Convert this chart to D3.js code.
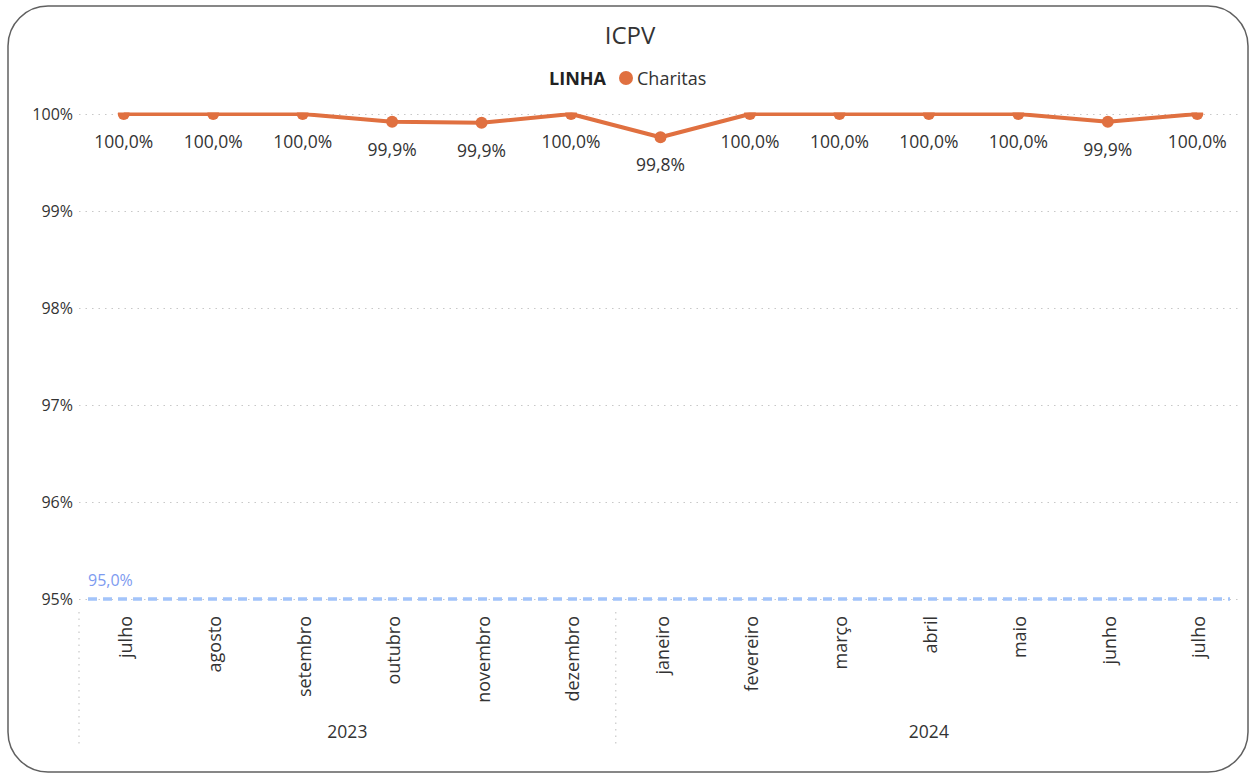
<!DOCTYPE html>
<html><head><meta charset="utf-8">
<script src="https://cdn.jsdelivr.net/npm/d3@7"></script>
<style>
html,body{margin:0;padding:0;background:#fff;}
svg{display:block;font-family:"Open Sans","Noto Sans",sans-serif;}
</style></head>
<body>
<svg id="c" width="1250" height="774"></svg>
<script>
const months = ["julho","agosto","setembro","outubro","novembro","dezembro","janeiro","fevereiro","março","abril","maio","junho","julho"];
const years = ["2023","2023","2023","2023","2023","2023","2024","2024","2024","2024","2024","2024","2024"];
const values = [100.0,100.0,100.0,99.92,99.91,100.0,99.76,100.0,100.0,100.0,100.0,99.92,100.0];
const labels = ["100,0%","100,0%","100,0%","99,9%","99,9%","100,0%","99,8%","100,0%","100,0%","100,0%","100,0%","99,9%","100,0%"];
const yTicks = [95,96,97,98,99,100];
const target = 95;
const targetLabel = "95,0%";
const title = "ICPV";
const legendTitle = "LINHA";
const seriesName = "Charitas";

const svg = d3.select("#c");
const orange = "#E07040";
const pLeft = 79, pRight = 1242, pTop = 114, pBottom = 599;

svg.append("rect").attr("x",8).attr("y",6).attr("width",1240).attr("height",766)
  .attr("rx",40).attr("ry",40).attr("fill","#fff").attr("stroke","#606060").attr("stroke-width",1.5);

const keys = months.map((m,i)=>i);
const x = d3.scaleBand().domain(keys).range([pLeft,pRight]).padding(0);
const cx = i => x(i) + x.bandwidth()/2;
const y = d3.scaleLinear().domain([95,100]).range([pBottom,pTop]);

// title
svg.append("text").attr("x",630).attr("y",44).attr("text-anchor","middle")
  .attr("font-size",24).attr("fill","#333").text(title);

// legend
svg.append("text").attr("x",606).attr("y",85).attr("text-anchor","end")
  .attr("font-size",18).attr("font-weight","bold").attr("fill","#222").text(legendTitle);
svg.append("circle").attr("cx",626).attr("cy",78).attr("r",7).attr("fill",orange);
svg.append("text").attr("x",637).attr("y",85).attr("font-size",18).attr("fill","#333").text(seriesName);

// gridlines
const yAxis = d3.axisLeft(y).tickValues(yTicks).tickFormat(d=>d+"%").tickSize(0).tickPadding(0);
const gy = svg.append("g").attr("transform",`translate(${pLeft},0)`).call(yAxis);
gy.select(".domain").remove();
gy.selectAll("text").attr("x",-6).attr("font-size",16).attr("fill","#333").attr("font-family","Open Sans, sans-serif");
gy.selectAll(".tick").append("line").attr("x1",0).attr("x2",pRight-pLeft-2)
  .attr("stroke","#c8c8c8").attr("stroke-dasharray","1.5,5").attr("stroke-width",1.2);

// target line
svg.append("line").attr("x1",88).attr("x2",1230).attr("y1",y(target)).attr("y2",y(target))
  .attr("stroke","#A3C4FA").attr("stroke-width",3.5).attr("stroke-dasharray","9,6");
svg.append("text").attr("x",88).attr("y",y(target)-13).attr("font-size",16).attr("fill","#7D9BF0").text(targetLabel);

// clip
svg.append("clipPath").attr("id","clip").append("rect")
  .attr("x",pLeft).attr("y",pTop-1.5).attr("width",pRight-pLeft).attr("height",pBottom-pTop+2);

const g = svg.append("g").attr("clip-path","url(#clip)");
const line = d3.line().x((d,i)=>cx(i)).y(d=>y(d));
g.append("path").datum(values).attr("d",line).attr("fill","none")
  .attr("stroke",orange).attr("stroke-width",4).attr("stroke-linejoin","round");
g.selectAll("circle.pt").data(values).join("circle").attr("class","pt")
  .attr("cx",(d,i)=>cx(i)).attr("cy",d=>y(d)).attr("r",6).attr("fill",orange);

// data labels
svg.selectAll("text.dl").data(values).join("text").attr("class","dl")
  .attr("x",(d,i)=>cx(i)).attr("y",d=>y(d)+34).attr("text-anchor","middle")
  .attr("font-size",17.5).attr("fill","#333").text((d,i)=>labels[i]);

// x axis month labels
const gx = svg.append("g");
gx.selectAll("text").data(months).join("text")
  .attr("transform",(d,i)=>`translate(${cx(i)+8},616) rotate(-90)`)
  .attr("text-anchor","end").attr("font-size",18).attr("fill","#333").text(d=>d);

// year groups
const yearGroups = d3.groups(keys, i=>years[i]);
yearGroups.forEach(([yr, idx])=>{
  const x0 = x(idx[0]), x1 = x(idx[idx.length-1]) + x.bandwidth();
  svg.append("text").attr("x",(x0+x1)/2).attr("y",738).attr("text-anchor","middle")
    .attr("font-size",17.5).attr("fill","#333").text(yr);
});
const seps = [x(0), x(yearGroups[1][1][0])];
seps.forEach(sx=>{
  svg.append("line").attr("x1",sx).attr("x2",sx).attr("y1",612).attr("y2",748)
    .attr("stroke","#c8c8c8").attr("stroke-dasharray","1.5,5").attr("stroke-width",1.2);
});
</script>
</body></html>
